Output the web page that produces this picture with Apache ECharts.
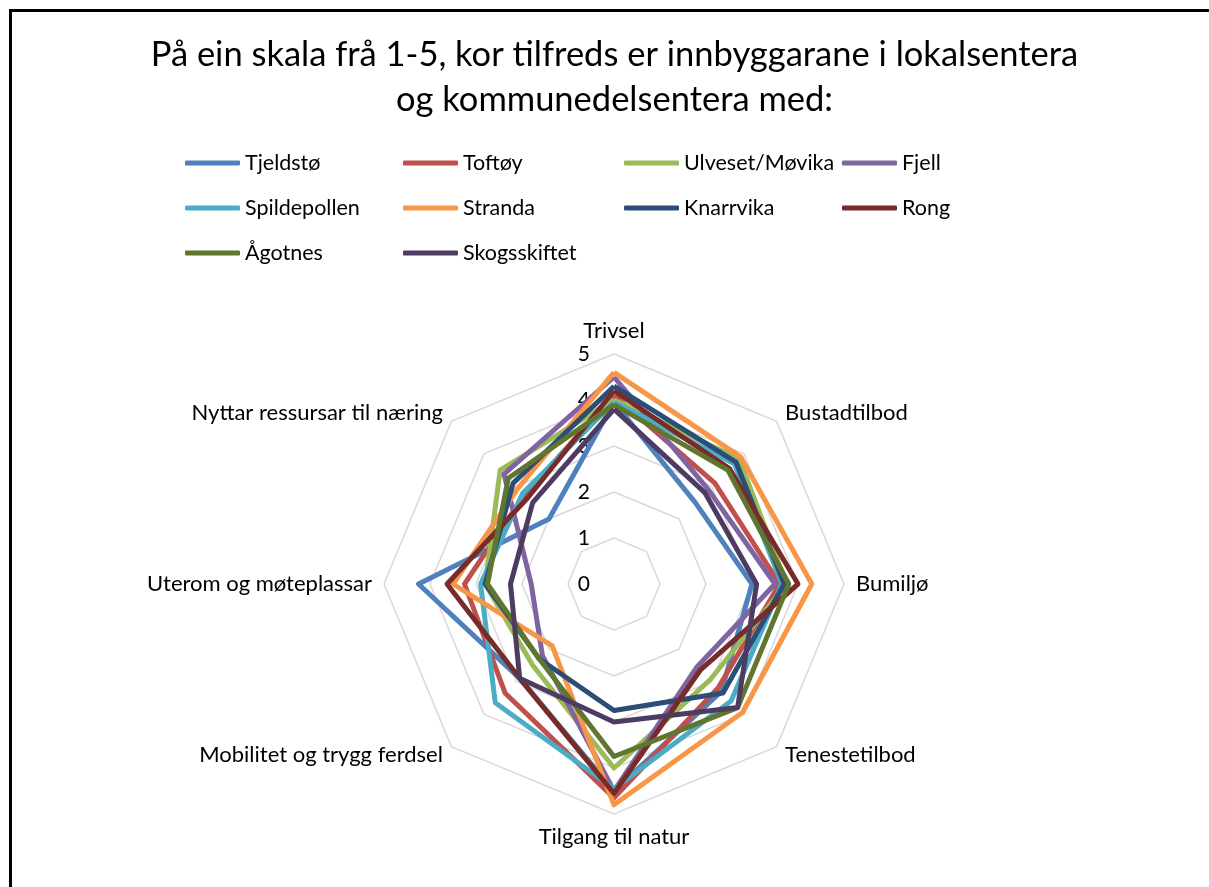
<!DOCTYPE html>
<html><head><meta charset="utf-8">
<script src="https://cdn.jsdelivr.net/npm/echarts@6/dist/echarts.min.js"></script>
<style>html,body{margin:0;padding:0;background:#fff}#c{width:1209px;height:887px}</style>
</head><body><div id="c"></div>
<script>
// Axes in clockwise order starting at the top
const axisNames = ['Trivsel','Bustadtilbod','Bumiljø','Tenestetilbod','Tilgang til natur','Mobilitet og trygg ferdsel','Uterom og møteplassar','Nyttar ressursar til næring'];
const seriesNames = ['Tjeldstø','Toftøy','Ulveset/Møvika','Fjell','Spildepollen','Stranda','Knarrvika','Rong','Ågotnes','Skogsskiftet'];
const tjeldsto     = [3.95, 2.5, 3.0, 3.3, 4.5, 2.9, 4.25, 2.0];
const toftoy       = [4.1, 3.1, 3.6, 3.2, 4.65, 3.35, 3.25, 2.75];
const ulveset      = [4.0, 3.85, 3.75, 2.95, 4.0, 2.5, 2.8, 3.5];
const fjell        = [4.5, 2.9, 3.5, 2.55, 4.5, 2.2, 1.8, 3.38];
const spildepollen = [3.95, 3.7, 3.65, 3.6, 4.45, 3.65, 2.9, 2.8];
const stranda      = [4.6, 3.9, 4.3, 3.95, 4.8, 1.9, 3.5, 2.95];
const knarrvika    = [4.3, 3.75, 3.7, 3.35, 2.75, 2.3, 2.8, 3.1];
const rong         = [4.2, 3.55, 4.0, 2.65, 4.55, 2.9, 3.63, 2.65];
const agotnes      = [3.9, 3.5, 3.8, 3.8, 3.75, 2.3, 2.75, 3.25];
const skogsskiftet = [3.8, 2.8, 3.1, 3.8, 3.0, 2.9, 2.25, 2.5];
const scaleMax = 5;

const allValues = [tjeldsto, toftoy, ulveset, fjell, spildepollen, stranda, knarrvika, rong, agotnes, skogsskiftet];
const colors = ['#4F81BD','#C0504D','#9BBB59','#8064A2','#4BACC6','#F79646','#2C4D75','#772C2A','#5F7530','#4D3B62'];

// ECharts places radar indicators counter-clockwise: reorder
const order = [0,7,6,5,4,3,2,1];
const FONT = 'Lato, "Open Sans", sans-serif';

const indicator = order.map((i, k) => {
  const o = { name: axisNames[i], max: scaleMax, min: 0 };
  if (k === 0) o.axisLabel = { show: true };
  return o;
});

const series = seriesNames.map((n, s) => ({
  type: 'radar',
  name: n,
  symbol: 'none',
  lineStyle: { width: 5, color: colors[s] },
  itemStyle: { color: colors[s] },
  z: 2 + s,
  data: [{ name: n, value: order.map(i => allValues[s][i]) }]
}));

const colLeft = [185, 403, 624, 842];
const legends = colLeft.map((x, c) => ({
  orient: 'vertical',
  left: x, top: 152,
  padding: 0,
  itemGap: 23,
  itemWidth: 55, itemHeight: 5,
  icon: 'roundRect',
  textStyle: { fontSize: 21.5, color: '#000', fontFamily: FONT, lineHeight: 22 },
  data: seriesNames.filter((_, i) => i % 4 === c)
}));

const chart = echarts.init(document.getElementById('c'));
chart.setOption({
  backgroundColor: '#fff',
  animation: false,
  title: {
    text: 'På ein skala frå 1-5, kor tilfreds er innbyggarane i lokalsentera\nog kommunedelsentera med:',
    left: 614.5, textAlign: 'center', top: 32, padding: 0,
    textStyle: { fontSize: 34.5, fontWeight: 'normal', color: '#000', fontFamily: FONT, lineHeight: 45 }
  },
  legend: legends,
  graphic: [{
    type: 'rect', silent: true,
    shape: { x: 10.5, y: 10.5, width: 1400, height: 1000 },
    style: { fill: 'none', stroke: '#000', lineWidth: 3 }
  }],
  radar: {
    center: [614, 584],
    radius: 230,
    startAngle: 90,
    splitNumber: 5,
    shape: 'polygon',
    indicator: indicator,
    axisName: { color: '#000', fontSize: 22, fontFamily: FONT },
    nameGap: 12,
    axisLine: { show: false },
    axisTick: { show: false },
    axisLabel: { show: false, color: '#000', fontSize: 21, fontFamily: FONT, margin: 24 },
    splitLine: { lineStyle: { color: '#D9D9D9', width: 1.5 } },
    splitArea: { show: false }
  },
  series: series
});
</script></body></html>
